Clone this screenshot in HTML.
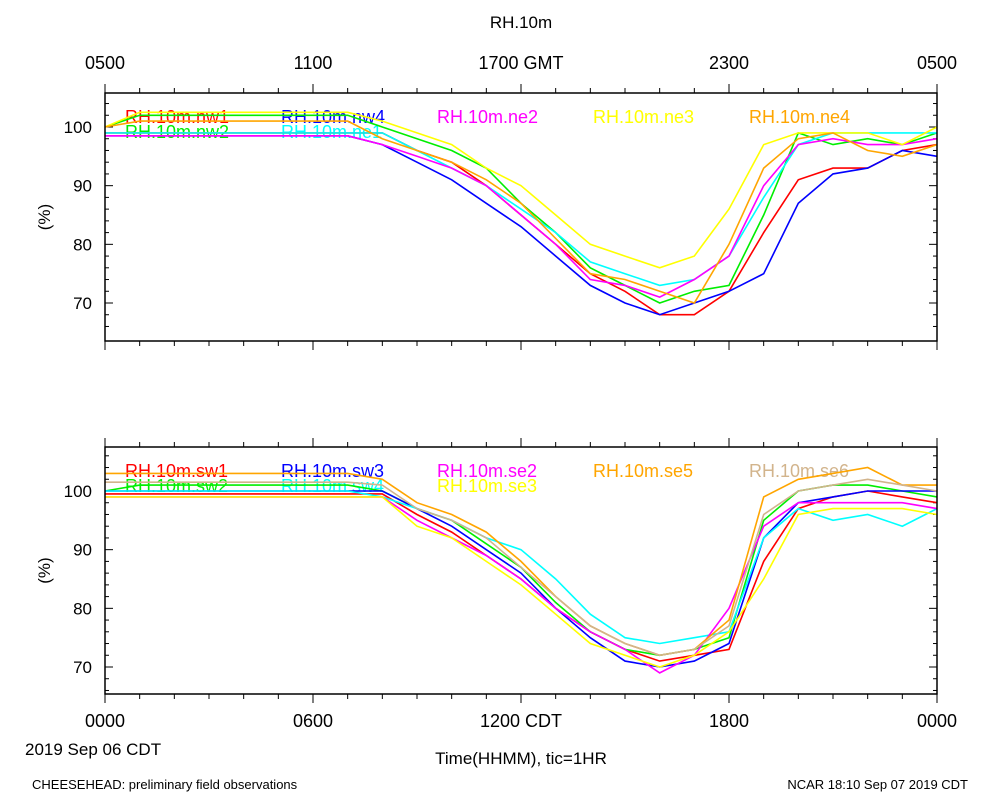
<!DOCTYPE html>
<html><head><meta charset="utf-8"><style>
body{margin:0;background:#fff}
svg text{font-family:"Liberation Sans",sans-serif}
</style></head><body>
<svg id="c" width="1000" height="800" xmlns="http://www.w3.org/2000/svg">
<text x="521" y="28" font-size="17" text-anchor="middle">RH.10m</text>
<g id="g"></g>
<text x="25" y="755" font-size="17">2019 Sep 06 CDT</text>
<text x="521" y="764" font-size="17" text-anchor="middle">Time(HHMM), tic=1HR</text>
<text x="32" y="789" font-size="13">CHEESEHEAD: preliminary field observations</text>
<text x="968" y="789" font-size="13" text-anchor="end">NCAR 18:10 Sep 07 2019 CDT</text>
</svg>
<script>
const hours=[0,1,2,3,4,5,6,7,8,9,10,11,12,13,14,15,16,17,18,19,20,21,22,23,24];
const yTicks=[70,80,90,100];
const topTickLabels=["0500","1100","1700 GMT","2300","0500"];
const bottomTickLabels=["0000","0600","1200 CDT","1800","0000"];
const topNames=["RH.10m.nw1","RH.10m.nw2","RH.10m.nw4","RH.10m.ne1","RH.10m.ne2","RH.10m.ne3","RH.10m.ne4"];
const topColors=["#ff0000","#00ee00","#0000ff","#00ffff","#ff00ff","#ffff00","#ffa500"];
const topLegCol=[0,0,1,1,2,3,4];
const topLegRow=[0,1,0,1,0,0,0];
const nw1=[99,99,99,99,99,99,99,99,99,96,94,90,85,80,75,72,68,68,72,82,91,93,93,96,97];
const nw2=[100,102,102,102,102,102,102,102,100,98,96,93,87,82,76,73,70,72,73,85,99,97,98,97,99];
const nw4=[98.5,98.5,98.5,98.5,98.5,98.5,98.5,98.5,97,94,91,87,83,78,73,70,68,70,72,75,87,92,93,96,95];
const ne1=[99,99,99,99,99,99,99,99,99,96,93,90,86,82,77,75,73,74,78,88,97,99,99,99,99];
const ne2=[98.5,98.5,98.5,98.5,98.5,98.5,98.5,98.5,97,95,93,90,85,80,74,73,71,74,78,90,97,98,97,97,98];
const ne3=[100,102.5,102.5,102.5,102.5,102.5,102.5,102.5,101,99,97,93,90,85,80,78,76,78,86,97,99,99,99,97,100];
const ne4=[100,101,101,101,101,101,101,101,98,96,94,91,87,81,75,74,72,70,80,93,98,99,96,95,97];
const botNames=["RH.10m.sw1","RH.10m.sw2","RH.10m.sw3","RH.10m.sw4","RH.10m.se2","RH.10m.se3","RH.10m.se5","RH.10m.se6"];
const botColors=["#ff0000","#00ee00","#0000ff","#00ffff","#ff00ff","#ffff00","#ffa500","#d2b48c"];
const botLegCol=[0,0,1,1,2,2,3,4];
const botLegRow=[0,1,0,1,0,1,0,0];
const sw1=[99.5,99.5,99.5,99.5,99.5,99.5,99.5,99.5,99.5,96,93,89,85,80,76,73,71,72,73,88,97,99,100,99,98];
const sw2=[100,101,101,101,101,101,101,101,100,97,95,91,87,81,76,73,72,73,75,95,100,101,101,100,99];
const sw3=[100,100,100,100,100,100,100,100,100,97,94,90,86,80,75,71,70,71,74,92,98,99,100,100,100];
const sw4=[100,100,100,100,100,100,100,100,99,97,95,92,90,85,79,75,74,75,76,92,97,95,96,94,97];
const se2=[99,99,99,99,99,99,99,99,99,95,92,89,85,80,76,73,69,72,80,94,98,98,98,98,97];
const se3=[99,99,99,99,99,99,99,99,99,94,92,88,84,79,74,72,70,72,76,85,96,97,97,97,96];
const se5=[103,103,103,103,103,103,103,103,102,98,96,93,88,82,77,74,72,73,78,99,102,103,104,101,101];
const se6=[101.5,101.5,101.5,101.5,101.5,101.5,101.5,101.5,101,97,95,92,87,82,77,74,72,73,77,96,100,101,102,101,100];
const topSeries=[nw1,nw2,nw4,ne1,ne2,ne3,ne4];
const botSeries=[sw1,sw2,sw3,sw4,se2,se3,se5,se6];
const NS="http://www.w3.org/2000/svg";
const g=document.getElementById('g');
const X0=105,X1=937;
function xs(h){return X0+(X1-X0)*h/24;}
function mk(tag,at){const e=document.createElementNS(NS,tag);for(const k in at)e.setAttribute(k,at[k]);g.appendChild(e);return e;}
function panel(top,bot,y100,y70,series,colors,names,lc,lr,xlabels,labY,pname){
  const ys=v=>y70+(v-70)*(y100-y70)/30;
  for(let h=0;h<=24;h++){
    const L=h%6==0?9:5,x=xs(h);
    const t1=mk('line',{x1:x,x2:x,y1:top,y2:top-L,stroke:'#000','stroke-width':1});
    
    
    const t2=mk('line',{x1:x,x2:x,y1:bot,y2:bot+L,stroke:'#000','stroke-width':1});
    
    
  }
  for(let i=0;i<xlabels.length;i++){
    const t=mk('text',{x:xs(i*6),y:labY,'font-size':18,'text-anchor':'middle'});
    t.textContent=xlabels[i];
    
    
  }
  for(let v=66;v<=106;v+=2){
    const y=ys(v); if(y<top||y>bot)continue;
    const L=v%10==0?8:4;
    const a=mk('line',{x1:X0,x2:X0+L,y1:y,y2:y,stroke:'#000'});
    
    
    const b=mk('line',{x1:X1,x2:X1-L,y1:y,y2:y,stroke:'#000'});
    
    
  }
  yTicks.forEach(v=>{
    const t=mk('text',{x:92,y:ys(v)+6,'font-size':17,'text-anchor':'end'});
    t.textContent=v;
    
    
  });
  const yc=(top+bot)/2;
  const yt=mk('text',{x:50,y:yc,'font-size':17,'text-anchor':'middle',transform:`rotate(-90 50 ${yc})`});
  yt.textContent='(%)';
  
  
  names.forEach((n,i)=>{
    const t=mk('text',{x:125+156*lc[i],y:top+30+lr[i]*15,'font-size':18,fill:colors[i]});
    t.textContent=n;
    
    
  });
  series.forEach((s,i)=>{
    const d=s.map((v,j)=>(j?'L':'M')+xs(hours[j]).toFixed(1)+','+ys(v).toFixed(1)).join('');
    const p=mk('path',{d:d,fill:'none',stroke:colors[i],'stroke-width':1.6});
    
    
  });
  const fr=mk('rect',{x:X0,y:top,width:X1-X0,height:bot-top,fill:'none',stroke:'#000','stroke-width':1.5});
  
  
}
panel(93,341,127,303,topSeries,topColors,topNames,topLegCol,topLegRow,topTickLabels,69,'top-panel');
panel(447,694,491,667,botSeries,botColors,botNames,botLegCol,botLegRow,bottomTickLabels,727,'bottom-panel');
</script>
</body></html>
